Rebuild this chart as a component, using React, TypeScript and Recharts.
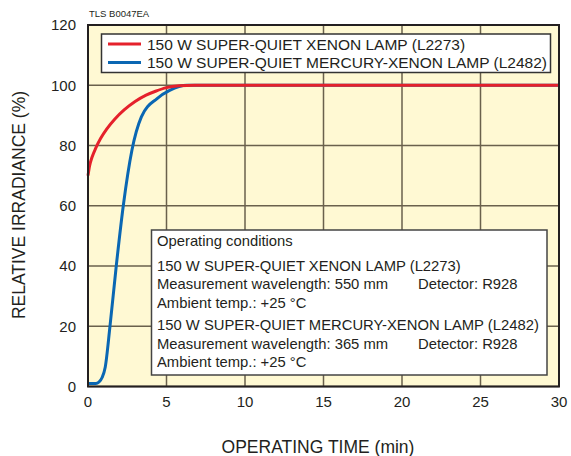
import { LineChart, Line, XAxis, YAxis, CartesianGrid } from 'recharts';

const xenonTime = [0, 0.1, 0.25, 0.5, 0.8, 1.2, 1.7, 2.3, 3, 3.7, 4.3, 5, 5.8, 6.8, 30];
const xenonValue = [70, 73.2, 76, 79.2, 82.3, 85.5, 88.7, 91.8, 94.6, 96.7, 98, 99.2, 99.8, 100, 100];

const mercuryTime = [0, 0.5, 0.7, 0.9, 1.1, 1.4, 1.8, 2.26, 2.8, 3.4, 4.4, 5.2, 6.3, 30];
const mercuryValue = [1, 1, 1.5, 3, 6.5, 20, 40, 60.5, 78.5, 89.5, 95.6, 98.3, 100, 100];

const xTicks = [0, 5, 10, 15, 20, 25, 30];
const yTicks = [0, 20, 40, 60, 80, 100, 120];

const seriesNames = [
  '150 W SUPER-QUIET XENON LAMP (L2273)',
  '150 W SUPER-QUIET MERCURY-XENON LAMP (L2482)',
];

const conditionLines = [
  'Operating conditions',
  '150 W SUPER-QUIET XENON LAMP (L2273)',
  'Measurement wavelength: 550 mm',
  'Ambient temp.: +25 °C',
  '150 W SUPER-QUIET MERCURY-XENON LAMP (L2482)',
  'Measurement wavelength: 365 mm',
  'Ambient temp.: +25 °C',
];

const RED = '#e5212b';
const BLUE = '#0a67b3';
const FONT = '"Liberation Sans", Arial, Helvetica, sans-serif';
const TEXT = '#231f20';

const xenonData = xenonTime.map((t, i) => ({ t, v: xenonValue[i] }));
const mercuryData = mercuryTime.map((t, i) => ({ t, v: mercuryValue[i] }));

export default function App() {
  const W = 571;
  const H = 456;
  // plot area edges
  const left = 88;
  const right = 559;
  const top = 25;
  const bottom = 386.5;

  const lineY = [241, 265.5, 284, 302.5, 325, 343.5, 361.5];

  return (
    <div style={{ position: 'absolute', left: 0, top: 0, width: W, height: H, background: '#fff' }}>
      <LineChart
        width={W}
        height={H}
        margin={{ top: top, right: W - right, bottom: H - bottom - 30, left: left - 60 }}
      >
        <CartesianGrid
          fill="#fff9d3"
          stroke="#6a614c"
          strokeWidth={1.5}
          horizontalValues={yTicks}
          verticalValues={xTicks}
        />
        <XAxis
          type="number"
          dataKey="t"
          domain={[0, 30]}
          ticks={xTicks}
          height={30}
          axisLine={false}
          tickLine={false}
          tickMargin={4}
          tick={{ fill: TEXT, fontSize: 15, fontFamily: FONT }}
          allowDuplicatedCategory={false}
        />
        <YAxis
          type="number"
          domain={[0, 120]}
          ticks={yTicks}
          width={60}
          axisLine={false}
          tickLine={false}
          tickMargin={6}
          tick={{ fill: TEXT, fontSize: 15, fontFamily: FONT }}
        />
        <Line
          data={mercuryData}
          dataKey="v"
          type="monotone"
          stroke={BLUE}
          strokeWidth={3}
          dot={false}
          isAnimationActive={false}
        />
        <Line
          data={xenonData}
          dataKey="v"
          type="monotone"
          stroke={RED}
          strokeWidth={3}
          dot={false}
          isAnimationActive={false}
        />
      </LineChart>

      <svg
        width={W}
        height={H}
        style={{ position: 'absolute', left: 0, top: 0, pointerEvents: 'none' }}
        fontFamily={FONT}
      >
        <rect x={left} y={top} width={right - left} height={bottom - top} fill="none" stroke="#231f20" strokeWidth={2} />

        <text x={89} y={17} fontSize={9.5} fill={TEXT}>TLS B0047EA</text>

        {/* legend */}
        <rect x={101.5} y={34} width={449} height={38.5} fill="#fff" stroke="#333" strokeWidth={1.5} />
        <line x1={108} x2={141} y1={44} y2={44} stroke={RED} strokeWidth={3} />
        <line x1={108} x2={141} y1={62.5} y2={62.5} stroke={BLUE} strokeWidth={3} />
        <text x={147} y={49.5} fontSize={15.5} fill={TEXT}>{seriesNames[0]}</text>
        <text x={147} y={68} fontSize={15.5} fill={TEXT}>{seriesNames[1]}</text>

        {/* operating conditions */}
        <rect x={151.5} y={230} width={395.5} height={145} fill="#fff" stroke="#444" strokeWidth={1.5} />
        {conditionLines.map((s, i) => (
          <text key={i} x={157} y={lineY[i] + 5} fontSize={14.8} fill={TEXT}>{s}</text>
        ))}
        <text x={418} y={lineY[2] + 5} fontSize={14.8} fill={TEXT}>Detector: R928</text>
        <text x={418} y={lineY[5] + 5} fontSize={14.8} fill={TEXT}>Detector: R928</text>

        {/* axis titles */}
        <text x={318} y={453} fontSize={17.5} fill={TEXT} textAnchor="middle">OPERATING TIME (min)</text>
        <text
          x={0}
          y={0}
          fontSize={17.5}
          fill={TEXT}
          textAnchor="middle"
          transform="translate(25 205) rotate(-90)"
        >
          RELATIVE IRRADIANCE (%)
        </text>
      </svg>
    </div>
  );
}
